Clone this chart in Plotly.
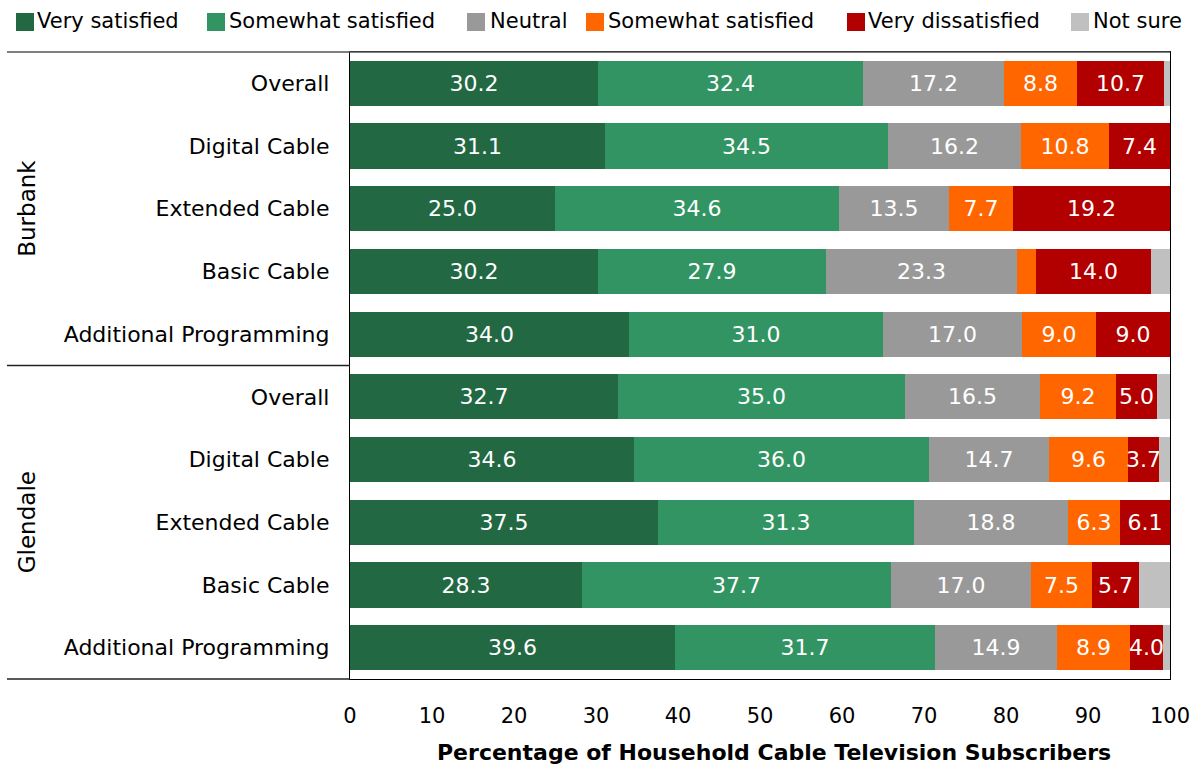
import plotly.graph_objects as go

# Survey rows, top to bottom
regions = ["Burbank"] * 5 + ["Glendale"] * 5
services = ["Overall", "Digital Cable", "Extended Cable", "Basic Cable", "Additional Programming"] * 2

very_satisfied = [30.2, 31.1, 25.0, 30.2, 34.0, 32.7, 34.6, 37.5, 28.3, 39.6]
somewhat_satisfied = [32.4, 34.5, 34.6, 27.9, 31.0, 35.0, 36.0, 31.3, 37.7, 31.7]
neutral = [17.2, 16.2, 13.5, 23.3, 17.0, 16.5, 14.7, 18.8, 17.0, 14.9]
somewhat_dissatisfied = [8.8, 10.8, 7.7, 2.3, 9.0, 9.2, 9.6, 6.3, 7.5, 8.9]
very_dissatisfied = [10.7, 7.4, 19.2, 14.0, 9.0, 5.0, 3.7, 6.1, 5.7, 4.0]
not_sure = [0.7, 0.0, 0.0, 2.3, 0.0, 1.6, 1.4, 0.0, 3.8, 0.9]

series = [
    ("Very satisfied", very_satisfied, "#226843", True),
    ("Somewhat satisfied", somewhat_satisfied, "#329463", True),
    ("Neutral", neutral, "#999999", True),
    ("Somewhat satisfied", somewhat_dissatisfied, "#FF6600", True),
    ("Very dissatisfied", very_dissatisfied, "#B20000", True),
    ("Not sure", not_sure, "#C0C0C0", False),
]

W, H = 1198, 767
M_L, M_R, M_T, M_B = 350, 28, 52, 88
PLOT_W, PLOT_H = W - M_L - M_R, H - M_T - M_B


def px_x(px):
    """Pixel column -> paper x."""
    return (px - M_L) / PLOT_W


def px_y(py):
    """Pixel row (from top) -> paper y."""
    return 1 - (py - M_T) / PLOT_H


rows = list(range(len(services)))
fig = go.Figure()
for name, vals, color, labelled in series:
    text = [f"{v:.1f}" if (labelled and v >= 3.5) else "" for v in vals]
    fig.add_trace(go.Bar(
        name=name, x=vals, y=rows, orientation="h",
        marker=dict(color=color, line=dict(width=0)),
        width=0.72, showlegend=False,
        text=text, textposition="inside", insidetextanchor="middle",
        textangle=0, constraintext="none",
        textfont=dict(family="DejaVu Sans", size=22, color="white"),
        cliponaxis=False,
    ))

line_dark = dict(color="#222222", width=1.3)
shapes = [
    dict(type="line", xref="paper", yref="paper", x0=px_x(7), x1=1, y0=1, y1=1,
         line=dict(color="#555555", width=1.3)),
    dict(type="line", xref="paper", yref="y", x0=px_x(7), x1=0, y0=4.5, y1=4.5,
         line=line_dark),
    dict(type="line", xref="paper", yref="paper", x0=px_x(7), x1=0, y0=0, y1=0,
         line=line_dark),
]

annotations = []
for label, center in [("Burbank", 2.0), ("Glendale", 7.0)]:
    annotations.append(dict(
        text=label, xref="paper", yref="y", x=px_x(27), y=center,
        textangle=-90, showarrow=False, xanchor="center", yanchor="middle",
        font=dict(family="DejaVu Sans", size=23, color="black"),
    ))

# Legend row across the top: colour square followed by its label
legend_square_left = [16, 207, 467, 586, 847, 1071]
legend_text_left = [37, 229, 490, 608, 868, 1093]
for (name, _, color, _), sq, tx in zip(series, legend_square_left, legend_text_left):
    shapes.append(dict(type="rect", xref="paper", yref="paper",
                       x0=px_x(sq), x1=px_x(sq + 18),
                       y0=px_y(31), y1=px_y(13),
                       fillcolor=color, line=dict(width=0)))
    annotations.append(dict(
        text=name, xref="paper", yref="paper", x=px_x(tx - 2), y=px_y(21.5),
        xanchor="left", yanchor="middle", showarrow=False,
        font=dict(family="DejaVu Sans", size=21, color="black"),
    ))

# Axis title
annotations.append(dict(
    text="<b>Percentage of Household Cable Television Subscribers</b>",
    xref="paper", yref="paper", x=px_x(774), y=px_y(752),
    xanchor="center", yanchor="middle", showarrow=False,
    font=dict(family="DejaVu Sans", size=22, color="black"),
))

fig.update_layout(
    barmode="stack",
    width=W, height=H,
    margin=dict(l=M_L, r=M_R, t=M_T, b=M_B, autoexpand=False),
    paper_bgcolor="white", plot_bgcolor="white",
    bargap=0,
    font=dict(family="DejaVu Sans", size=21, color="black"),
    showlegend=False,
    shapes=shapes,
    annotations=annotations,
    xaxis=dict(range=[0, 100], tickvals=list(range(0, 101, 10)),
               showgrid=False, zeroline=False,
               showline=True, mirror=True, linecolor="black", linewidth=1.3,
               ticks="", ticklabelstandoff=18,
               tickfont=dict(family="DejaVu Sans", size=21)),
    yaxis=dict(range=[9.5, -0.5], tickvals=rows, ticktext=services,
               showgrid=False, zeroline=False,
               showline=True, mirror=True, linecolor="black", linewidth=1.3,
               ticks="", ticklabelstandoff=15,
               tickfont=dict(family="DejaVu Sans", size=22)),
)

fig.write_html("out.html")
